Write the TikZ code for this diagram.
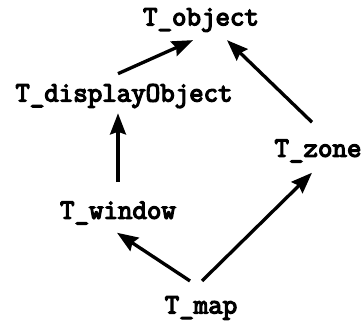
\documentclass[tikz,border=0pt]{standalone}
\usepackage{fontspec}
\setmonofont{Latin Modern Mono}[AutoFakeBold=4.5]
\usepackage{amsmath}
\usetikzlibrary{arrows.meta,calc,positioning}

\begin{document}
\begin{tikzpicture}[scale=1, on grid, every node/.style={inner sep=0pt,font=\fontsize{16}{18}\selectfont\ttfamily\bfseries}, arr/.style={line width=1.9pt,-{Stealth[length=12pt,width=9pt,inset=1.5pt]}}]
    \useasboundingbox (0,0) rectangle (7.22,6.62);
    \node at (4.02,0.46) (map) {T\_map};
    \node[above left=1.9cm and 1.66cm of map] (window) {T\_window};
    \node[above right=3.14cm and 2.34cm of map] (zone) {T\_zone};
    \node[above right=2.34cm and 0.12cm of window] (dispobject) {T\_displayObject};
    \node[above=5.76cm of map] (object) {T\_object};

    \draw[arr] ([shift={(-0.12,0.2)}]dispobject.north) -- ([shift={(-0.16,-0.16)}]object.south);
    \draw[arr] ([shift={(0,0.38)}]window.north) -- ([shift={(-0.12,-0.1)}]dispobject.south);
    \draw[arr] ([shift={(-0.12,0.34)}]zone.north) -- ([shift={(0.52,-0.16)}]object.south);
    \draw[arr] ([shift={(-0.22,0.3)}]map.north) -- ([shift={(-0.02,-0.16)}]window.south);
    \draw[arr] ([shift={(0.02,0.3)}]map.north) -- ([shift={(-0.12,-0.2)}]zone.south);
\end{tikzpicture}
\end{document}
